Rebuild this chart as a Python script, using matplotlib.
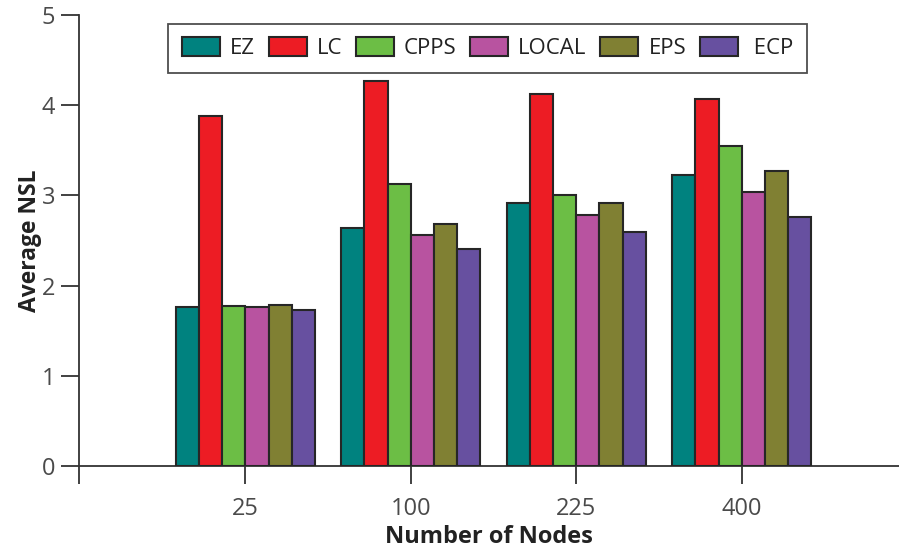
import numpy as np
import matplotlib.pyplot as plt

plt.rcParams['font.family'] = ['Open Sans', 'DejaVu Sans']

# nombre de noeuds
nodes = ['25', '100', '225', '400']

# NSL moyen par algo
algos = ['EZ', 'LC', 'CPPS', 'LOCAL', 'EPS', ' ECP']
ez = [1.76, 2.64, 2.92, 3.22]
lc = [3.88, 4.27, 4.12, 4.07]
cpps = [1.77, 3.13, 3.00, 3.55]
local = [1.76, 2.56, 2.78, 3.04]
eps = [1.79, 2.68, 2.92, 3.27]
ecp = [1.73, 2.41, 2.59, 2.76]

couleurs = ['#00827f', '#ed1c24', '#6cbe45', '#b853a0', '#808033', '#6750a0']

fig = plt.figure(figsize=(8.99, 5.54), dpi=100)
ax = fig.add_axes([0.0879, 0.1583, 0.9121, 0.8152])

x = np.arange(len(nodes))
w = 0.14
series = [ez, lc, cpps, local, eps, ecp]
for i, (vals, nom, c) in enumerate(zip(series, algos, couleurs)):
    ax.bar(x + (i - 2.5) * w, vals, w, color=c, edgecolor='#262626',
           linewidth=1.5, label=nom, zorder=3)

ax.set_xlim(-1.005, 3.95)
ax.set_ylim(0, 5)
# petit tick tout a gauche, sans label
ax.set_xticks([-1.005] + list(x))
ax.set_xticklabels([''] + nodes)
ax.set_yticks(range(6))

for s in ['top', 'right']:
    ax.spines[s].set_visible(False)
for s in ['left', 'bottom']:
    ax.spines[s].set_color('#333333')
    ax.spines[s].set_linewidth(1.3)

ax.tick_params(axis='both', direction='out', length=13, width=1.3,
               color='#333333', labelcolor='#4a4a4a', labelsize=17)
ax.tick_params(axis='x', pad=9)
ax.tick_params(axis='y', pad=4)

ax.set_xlabel('Number of Nodes', fontsize=17, fontweight='bold', color='#222222', labelpad=3)
ax.set_ylabel('Average NSL', fontsize=16.5, fontweight='bold', color='#222222', labelpad=0)

leg = ax.legend(ncol=6, loc='upper left', bbox_to_anchor=(0.109, 0.979),
                borderaxespad=0, fontsize=16, frameon=True, fancybox=False,
                handlelength=1.71, handleheight=0.9, handletextpad=0.45,
                columnspacing=0.62, borderpad=0.6)
leg.get_frame().set_edgecolor('#222222')
leg.get_frame().set_linewidth(1.3)
for t in leg.get_texts():
    t.set_color('#222222')

plt.savefig('out.png', dpi=100)
